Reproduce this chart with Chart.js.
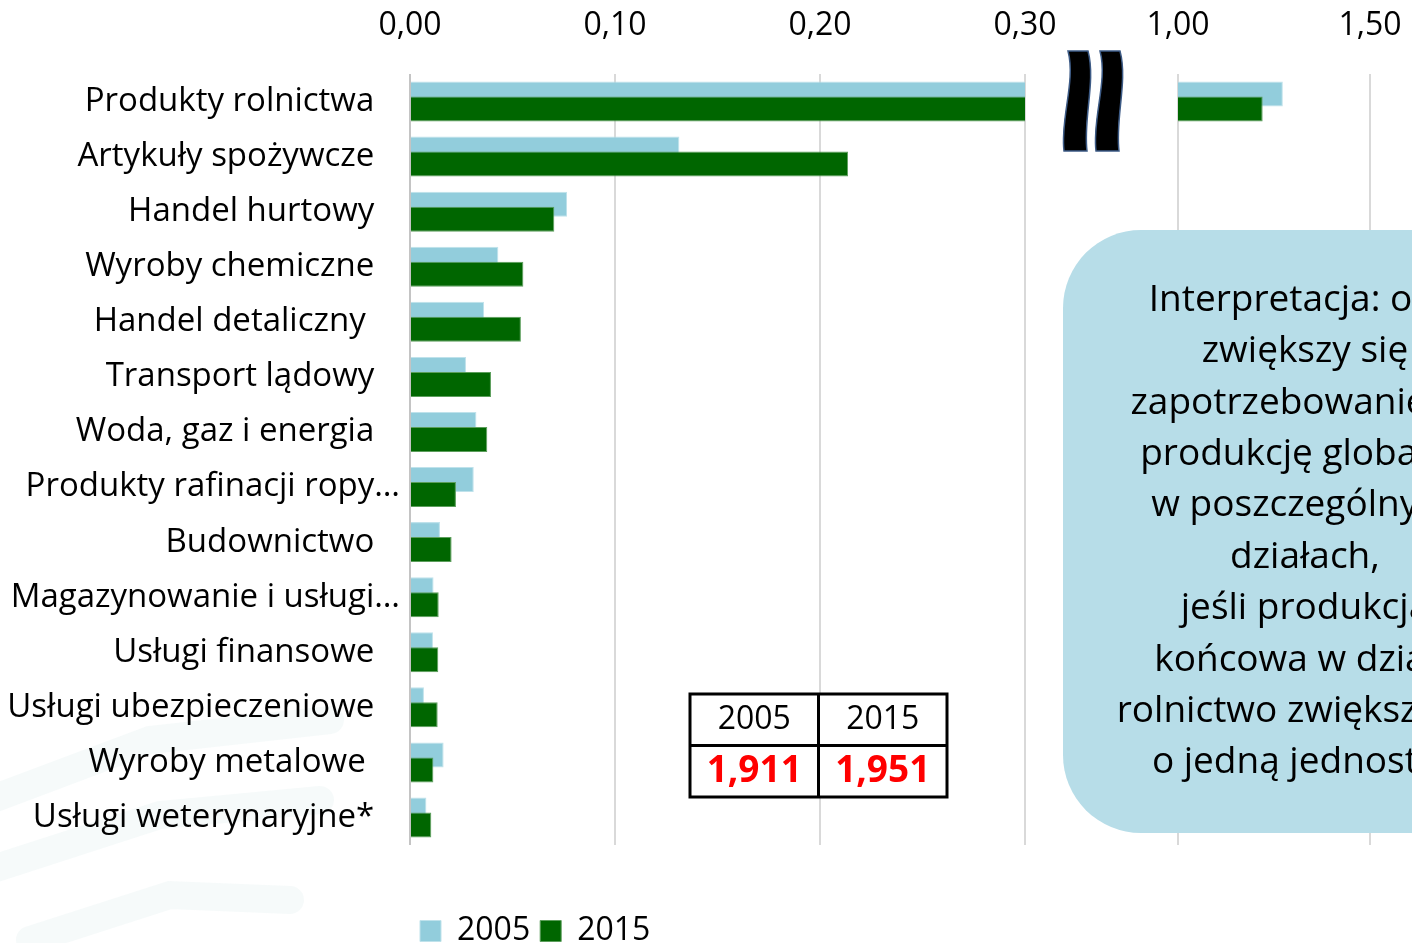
<!DOCTYPE html>
<html>
<head>
<meta charset="utf-8">
<script src="https://cdn.jsdelivr.net/npm/chart.js@4.4.1/dist/chart.umd.min.js"></script>
<style>
  html, body { margin: 0; background: #fff; }
  #wrap { width: 1412px; height: 943px; }
</style>
</head>
<body>
<div id="wrap"><canvas id="chart"></canvas></div>
<script>
const categories = ["Produkty rolnictwa", "Artykuły spożywcze", "Handel hurtowy", "Wyroby chemiczne",
  "Handel detaliczny ", "Transport lądowy", "Woda, gaz i energia", "Produkty rafinacji ropy…",
  "Budownictwo", "Magazynowanie i usługi…", "Usługi finansowe", "Usługi ubezpieczeniowe",
  "Wyroby metalowe ", "Usługi weterynaryjne*"];
const values2005 = [1.273, 0.1314, 0.0766, 0.0431, 0.0361, 0.0273, 0.0324, 0.0311, 0.0146, 0.0115, 0.0112, 0.0068, 0.0164, 0.0080];
const values2015 = [1.2205, 0.2137, 0.0704, 0.0553, 0.0541, 0.0395, 0.0377, 0.0224, 0.0203, 0.0140, 0.0138, 0.0135, 0.0114, 0.0104];
const leftTicks = [0, 0.1, 0.2, 0.3];
const rightTicks = [1.0, 1.5];
const tableYears = ["2005", "2015"];
const tableValues = ["1,911", "1,951"];
const noteLines = ["Interpretacja: o ile", "zwiększy się", "zapotrzebowanie na", "produkcję globalną",
  "w poszczególnych", "działach,", "jeśli produkcja", "końcowa w dziale",
  "rolnictwo zwiększy się", "o jedną jednostkę"];

const FONT = '"Open Sans", sans-serif';
const BLUE = '#92cddc', GREEN = '#006600';

// each dataset is clipped to its own x segment, so the axis looks broken
const brokenAxis = {
  id: 'brokenAxis',
  beforeDraw(chart) {
    const ctx = chart.ctx;
    ctx.save();
    ctx.strokeStyle = 'rgba(140,185,195,0.08)';
    ctx.lineWidth = 28;
    ctx.lineCap = 'round';
    [[[-10, 800], [150, 740], [330, 720]], [[-10, 870], [160, 815], [320, 800]], [[30, 940], [170, 895], [290, 900]]]
      .forEach(pts => {
        ctx.beginPath();
        pts.forEach(([x, y], i) => i ? ctx.lineTo(x, y) : ctx.moveTo(x, y));
        ctx.stroke();
      });
    ctx.restore();
  },
  beforeDatasetsDraw(chart) {
    const {ctx, chartArea: a} = chart;
    chart.data.datasets.forEach((ds, i) => {
      const sc = chart.scales[ds.xAxisID];
      ctx.save();
      ctx.beginPath();
      ctx.rect(sc.left, a.top, sc.right - sc.left, a.bottom - a.top);
      ctx.clip();
      chart.getDatasetMeta(i).controller.draw();
      ctx.restore();
    });
    return false;
  },
  afterDraw(chart) {
    const {ctx, chartArea: a} = chart;
    const g = chart.scales.xGap;

    // break marks
    ctx.save();
    ctx.fillStyle = '#000';
    ctx.strokeStyle = '#3d5b86';
    ctx.lineWidth = 1.5;
    [g.left + 38, g.left + 70].forEach(ox => {
      const t = a.top - 23, b = a.top + 77;
      ctx.beginPath();
      ctx.moveTo(ox + 5, t);
      ctx.bezierCurveTo(ox + 13, t + 30, ox - 3, t + 68, ox + 1, b);
      ctx.lineTo(ox + 24, b);
      ctx.bezierCurveTo(ox + 20, t + 68, ox + 33, t + 30, ox + 25, t);
      ctx.closePath();
      ctx.fill();
      ctx.stroke();
    });
    ctx.restore();

    // table with the multiplier
    const tx = 690, ty = 694, cw = 128.5, rh = 51.5;
    ctx.save();
    ctx.fillStyle = '#fff';
    ctx.fillRect(tx, ty, cw * 2, rh * 2);
    ctx.strokeStyle = '#000';
    ctx.lineWidth = 3;
    ctx.strokeRect(tx, ty, cw * 2, rh * 2);
    ctx.beginPath();
    ctx.moveTo(tx + cw, ty); ctx.lineTo(tx + cw, ty + rh * 2);
    ctx.moveTo(tx, ty + rh); ctx.lineTo(tx + cw * 2, ty + rh);
    ctx.stroke();
    ctx.textAlign = 'center';
    ctx.textBaseline = 'middle';
    tableYears.forEach((t, i) => {
      ctx.fillStyle = '#000';
      ctx.font = '32px ' + FONT;
      ctx.fillText(t, tx + cw * (i + 0.5), ty + rh * 0.5);
      ctx.fillStyle = '#ff0000';
      ctx.font = 'bold 37px ' + FONT;
      ctx.fillText(tableValues[i], tx + cw * (i + 0.5), ty + rh * 1.5);
    });
    ctx.restore();

    // interpretation note
    const bx = 1063, by = 230, bw = 484, bh = 603, r = 78;
    ctx.save();
    ctx.fillStyle = '#b7dde8';
    ctx.beginPath();
    ctx.roundRect(bx, by, bw, bh, r);
    ctx.fill();
    ctx.fillStyle = '#000';
    ctx.font = '37px ' + FONT;
    ctx.textAlign = 'center';
    ctx.textBaseline = 'middle';
    const lh = 51.4, y0 = by + bh / 2 - lh * (noteLines.length - 1) / 2;
    noteLines.forEach((t, i) => ctx.fillText(t, bx + bw / 2, y0 + i * lh));
    ctx.restore();
  }
};

const fmt = v => v.toFixed(2).replace('.', ',');
const xGrid = {color: ctx => ctx.tick && ctx.tick.value === 0 ? '#c4c4c4' : '#d9d9d9', lineWidth: 2, drawTicks: false};
const xTicks = {font: {family: FONT, size: 32}, color: '#000', padding: 29, callback: fmt, maxRotation: 0};
// fixed height, and no side padding so the segments fill the full width
const topFit = s => { s.height = 74; s.paddingLeft = 0; s.paddingRight = 0; };

new Chart(document.getElementById('chart'), {
  type: 'bar',
  data: {
    labels: categories,
    datasets: [
      {label: '2005', data: values2005, xAxisID: 'xLeft', stack: 's2005', backgroundColor: BLUE, borderColor: '#bfe2eb', borderWidth: 1},
      {label: '2015', data: values2015, xAxisID: 'xLeft', stack: 's2015', backgroundColor: GREEN, borderColor: '#5c9e5c', borderWidth: 1},
      {label: '2005', data: values2005, xAxisID: 'xRight', stack: 's2005', backgroundColor: BLUE, borderColor: '#bfe2eb', borderWidth: 1},
      {label: '2015', data: values2015, xAxisID: 'xRight', stack: 's2015', backgroundColor: GREEN, borderColor: '#5c9e5c', borderWidth: 1}
    ]
  },
  options: {
    indexAxis: 'y',
    responsive: true,
    maintainAspectRatio: false,
    animation: false,
    categoryPercentage: 0.545,
    barPercentage: 1.667,
    layout: {autoPadding: false, padding: {top: 0, right: 0, bottom: -14, left: 0}},
    scales: {
      // top boxes of a stack are laid out in reverse order: right segment first
      xRight: {
        type: 'linear', position: 'top', stack: 'x', stackWeight: 234,
        min: 1.0, max: 1.0 + 234 / 384,
        afterBuildTicks: s => { s.ticks = rightTicks.map(value => ({value})); },
        afterFit: topFit,
        ticks: xTicks, grid: xGrid, border: {display: false}
      },
      xGap: {
        type: 'linear', position: 'top', stack: 'x', stackWeight: 153,
        afterFit: topFit,
        ticks: {display: false}, grid: {display: false}, border: {display: false}
      },
      xLeft: {
        type: 'linear', position: 'top', stack: 'x', stackWeight: 615,
        min: 0, max: 0.3,
        afterBuildTicks: s => { s.ticks = leftTicks.map(value => ({value})); },
        afterFit: topFit,
        ticks: xTicks, grid: xGrid, border: {display: false}
      },
      // empty strip between the bars and the legend
      xSpace: {
        type: 'linear', position: 'bottom',
        afterFit: s => { s.height = 60; s.paddingLeft = 0; s.paddingRight = 0; },
        ticks: {display: false}, grid: {display: false}, border: {display: false}
      },
      y: {
        afterFit: s => { s.width = 410; },
        grid: {display: false, drawTicks: false},
        border: {display: false},
        ticks: {
          font: {family: FONT, size: 33}, color: '#000', padding: 10, autoSkip: false,
          callback(v) {
            const label = this.getLabelForValue(v);
            return label.endsWith('…') ? label : label + '   ';
          }
        }
      }
    },
    plugins: {
      tooltip: {enabled: false},
      legend: {
        position: 'bottom', align: 'start', fullSize: false,
        labels: {
          font: {family: FONT, size: 32}, color: '#000', boxWidth: 21, boxHeight: 21, padding: 10,
          filter: item => item.datasetIndex < 2
        }
      }
    }
  },
  plugins: [brokenAxis]
});
</script>
</body>
</html>
